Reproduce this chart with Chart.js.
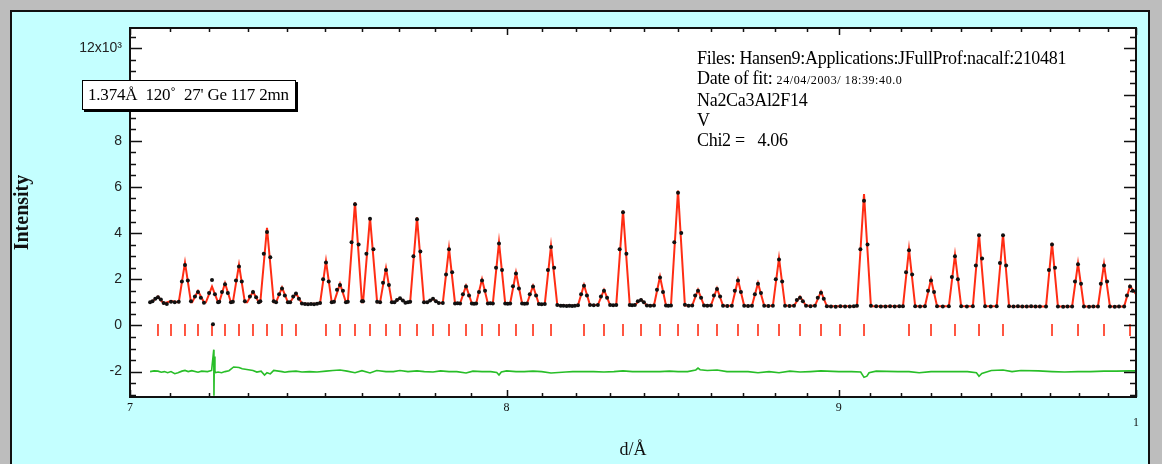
<!DOCTYPE html>
<html>
<head>
<meta charset="utf-8">
<script src="https://cdn.jsdelivr.net/npm/chart.js@4.4.1/dist/chart.umd.min.js"></script>
<style>
    body { margin: 0; width: 1162px; height: 464px; background: #bdbdbd; overflow: hidden; position: relative; }
    #panel { position: absolute; left: 10px; top: 10px; width: 1136px; height: 460px; background: #c4ffff; border: 2px solid #111; border-bottom: none; }
    #c { position: absolute; left: 0; top: 0; }
    #box { position: absolute; left: 82px; top: 80px; width: 207px; height: 28px; padding-left: 5px; background: #fff; border: 1px solid #000; box-shadow: 2px 2px 0 #000; font: 17px "Liberation Serif", serif; line-height: 28px; white-space: pre; letter-spacing: -0.2px; }
    #info { position: absolute; left: 697px; top: 48px; font: 18px "Liberation Serif", serif; line-height: 20px; white-space: pre; color: #000; letter-spacing: -0.3px; }
    #info .small { font-size: 12px; letter-spacing: 0.6px; }
</style>
</head>
<body>
<div id="panel"></div>
<canvas id="c" width="1162" height="464"></canvas>
<div id="box">1.374Å  120˚  27' Ge 117 2mn</div>
<div id="info">Files: Hansen9:Applications:JFullProf:nacalf:210481
Date of fit: <span class="small">24/04/2003/ 18:39:40.0</span>
Na2Ca3Al2F14
V
Chi2 =   4.06</div>
<script>
// d (Å) and intensity (x10^3)
const calcCurve = [
    [7.050, 1.02], [7.056, 1.04], [7.0698, 1.25], [7.084, 0.95], [7.1025, 1.06], [7.122, 1.0],
    [7.1378, 2.72], [7.153, 1.0], [7.156, 1.0], [7.1708, 1.49], [7.186, 1.0], [7.191, 1.0],
    [7.2065, 1.68], [7.222, 1.0], [7.225, 1.0], [7.2398, 1.83], [7.255, 1.0], [7.260, 1.0],
    [7.2758, 2.62], [7.291, 1.0], [7.297, 1.0], [7.3120, 1.46], [7.327, 1.0], [7.331, 1.0],
    [7.3484, 4.23], [7.366, 1.0], [7.372, 1.0], [7.3876, 1.64], [7.403, 1.0], [7.409, 1.0],
    [7.4243, 1.39], [7.440, 0.95], [7.460, 0.93], [7.480, 0.95], [7.488, 0.97], [7.5037, 2.79],
    [7.519, 1.0], [7.525, 1.0], [7.5411, 1.80], [7.557, 1.0], [7.562, 1.0], [7.5813, 5.33],
    [7.600, 1.0], [7.603, 1.0], [7.6217, 4.68], [7.641, 1.0], [7.649, 1.0], [7.6651, 2.48],
    [7.681, 1.0], [7.688, 1.0], [7.7032, 1.18], [7.718, 1.0], [7.731, 1.0], [7.7498, 4.68],
    [7.769, 1.0], [7.778, 1.0], [7.7939, 1.15], [7.810, 0.97], [7.821, 0.97], [7.8382, 3.34],
    [7.855, 0.95], [7.869, 0.95], [7.8856, 1.71], [7.902, 0.95], [7.914, 0.95], [7.9305, 2.00],
    [7.947, 0.95], [7.961, 0.95], [7.9784, 3.60], [7.996, 0.95], [8.010, 0.95], [8.0266, 2.29],
    [8.044, 0.95], [8.058, 0.95], [8.0752, 1.71], [8.092, 0.93], [8.109, 0.93], [8.1269, 3.44],
    [8.145, 0.88], [8.170, 0.85], [8.190, 0.85], [8.205, 0.87], [8.2225, 1.75], [8.240, 0.88],
    [8.263, 0.88], [8.2810, 1.54], [8.299, 0.88], [8.317, 0.88], [8.3370, 4.97], [8.357, 0.88],
    [8.372, 0.88], [8.3904, 1.13], [8.408, 0.86], [8.429, 0.86], [8.4471, 2.11], [8.465, 0.86],
    [8.480, 0.86], [8.5012, 5.84], [8.522, 0.86], [8.544, 0.86], [8.5617, 1.54], [8.580, 0.86],
    [8.601, 0.86], [8.6195, 1.61], [8.638, 0.85], [8.665, 0.85], [8.6839, 1.97], [8.703, 0.85],
    [8.727, 0.85], [8.7457, 1.83], [8.765, 0.85], [8.792, 0.85], [8.8111, 2.91], [8.830, 0.85],
    [8.858, 0.85], [8.8770, 1.25], [8.896, 0.85], [8.924, 0.85], [8.9433, 1.46], [8.962, 0.83],
    [9.000, 0.83], [9.040, 0.83], [9.058, 0.83], [9.0807, 5.69], [9.103, 0.83], [9.150, 0.83],
    [9.190, 0.83], [9.207, 0.83], [9.2267, 3.30], [9.247, 0.83], [9.279, 0.83], [9.2990, 2.00],
    [9.319, 0.83], [9.358, 0.83], [9.3784, 3.05], [9.399, 0.83], [9.438, 0.83], [9.4586, 3.96],
    [9.479, 0.83], [9.518, 0.83], [9.5394, 3.96], [9.560, 0.83], [9.600, 0.82], [9.660, 0.82],
    [9.686, 0.82], [9.7066, 3.58], [9.727, 0.82], [9.776, 0.82], [9.7965, 2.69], [9.817, 0.82],
    [9.866, 0.82], [9.8872, 2.65], [9.908, 0.82], [9.958, 0.82], [9.9788, 1.71], [10.0, 1.35]
];

const observed = [
    [7.050, 1.0], [7.056, 1.05], [7.063, 1.15], [7.0698, 1.22], [7.077, 1.12], [7.084, 0.97], [7.092, 0.93],
    [7.1025, 1.02], [7.112, 1.0], [7.122, 1.02], [7.130, 1.9], [7.1378, 2.62], [7.145, 1.95], [7.153, 1.05],
    [7.163, 1.25], [7.1708, 1.45], [7.178, 1.2], [7.186, 0.98], [7.199, 1.4], [7.2065, 1.97], [7.214, 1.35],
    [7.222, 1.0], [7.209, 0.05], [7.225, 1.02], [7.232, 1.45], [7.2398, 1.78], [7.247, 1.4], [7.255, 1.0],
    [7.260, 1.02], [7.268, 1.95], [7.2758, 2.55], [7.283, 1.9], [7.291, 1.05], [7.304, 1.25], [7.3120, 1.45],
    [7.320, 1.22], [7.327, 1.0], [7.331, 1.05], [7.340, 3.1], [7.3484, 4.05], [7.357, 2.95], [7.366, 1.05],
    [7.372, 1.0], [7.380, 1.35], [7.3876, 1.6], [7.395, 1.3], [7.403, 1.0], [7.409, 1.0], [7.417, 1.25],
    [7.4243, 1.38], [7.432, 1.15], [7.440, 0.95], [7.448, 0.93], [7.456, 0.92], [7.464, 0.93], [7.472, 0.92],
    [7.480, 0.94], [7.488, 0.97], [7.496, 2.0], [7.5037, 2.72], [7.511, 1.9], [7.519, 1.0], [7.525, 1.02],
    [7.533, 1.55], [7.5411, 1.75], [7.549, 1.5], [7.557, 1.0], [7.562, 1.02], [7.572, 3.6], [7.5813, 5.25],
    [7.591, 3.5], [7.600, 1.05], [7.603, 1.05], [7.612, 3.1], [7.6217, 4.62], [7.631, 3.3], [7.641, 1.02],
    [7.649, 1.0], [7.657, 1.85], [7.6651, 2.4], [7.673, 1.75], [7.681, 1.0], [7.688, 1.0], [7.695, 1.1],
    [7.7032, 1.18], [7.711, 1.08], [7.718, 0.98], [7.725, 1.0], [7.731, 1.02], [7.740, 3.0], [7.7498, 4.6],
    [7.759, 3.2], [7.769, 1.0], [7.778, 1.0], [7.786, 1.08], [7.7939, 1.15], [7.802, 1.05], [7.810, 0.97],
    [7.821, 0.97], [7.830, 2.2], [7.8382, 3.3], [7.847, 2.3], [7.855, 0.95], [7.862, 0.96], [7.869, 0.95],
    [7.877, 1.35], [7.8856, 1.68], [7.894, 1.3], [7.902, 0.95], [7.908, 0.94], [7.914, 0.95], [7.922, 1.45],
    [7.9305, 1.95], [7.939, 1.5], [7.947, 0.95], [7.954, 0.96], [7.961, 0.95], [7.970, 2.5], [7.9784, 3.55],
    [7.987, 2.4], [7.996, 0.95], [8.003, 0.94], [8.010, 0.95], [8.018, 1.7], [8.0266, 2.25], [8.035, 1.6],
    [8.044, 0.95], [8.051, 0.94], [8.058, 0.95], [8.066, 1.35], [8.0752, 1.68], [8.084, 1.3], [8.092, 0.93],
    [8.100, 0.92], [8.109, 0.93], [8.118, 2.4], [8.1269, 3.4], [8.136, 2.5], [8.145, 0.88], [8.155, 0.85],
    [8.163, 0.85], [8.172, 0.84], [8.180, 0.85], [8.188, 0.84], [8.196, 0.85], [8.205, 0.87], [8.214, 1.35],
    [8.2225, 1.72], [8.231, 1.3], [8.240, 0.88], [8.251, 0.87], [8.263, 0.88], [8.272, 1.25], [8.2810, 1.5],
    [8.290, 1.2], [8.299, 0.88], [8.308, 0.87], [8.317, 0.88], [8.327, 3.3], [8.3370, 4.9], [8.347, 3.1],
    [8.357, 0.88], [8.364, 0.87], [8.372, 0.88], [8.381, 1.05], [8.3904, 1.1], [8.399, 1.0], [8.408, 0.86],
    [8.418, 0.85], [8.429, 0.86], [8.438, 1.55], [8.4471, 2.08], [8.456, 1.45], [8.465, 0.86], [8.472, 0.85],
    [8.480, 0.86], [8.490, 3.6], [8.5012, 5.75], [8.511, 4.0], [8.522, 0.9], [8.533, 0.85], [8.544, 0.86],
    [8.553, 1.3], [8.5617, 1.5], [8.571, 1.2], [8.580, 0.86], [8.590, 0.85], [8.601, 0.86], [8.610, 1.3],
    [8.6195, 1.58], [8.629, 1.25], [8.638, 0.85], [8.651, 0.84], [8.665, 0.85], [8.674, 1.5], [8.6839, 1.95],
    [8.693, 1.45], [8.703, 0.85], [8.715, 0.84], [8.727, 0.85], [8.736, 1.35], [8.7457, 1.8], [8.755, 1.4],
    [8.765, 0.85], [8.778, 0.84], [8.792, 0.85], [8.801, 2.0], [8.8111, 2.85], [8.821, 1.9], [8.830, 0.85],
    [8.844, 0.84], [8.858, 0.85], [8.867, 1.1], [8.8770, 1.2], [8.886, 1.05], [8.896, 0.85], [8.910, 0.83],
    [8.924, 0.85], [8.933, 1.2], [8.9433, 1.42], [8.952, 1.15], [8.962, 0.83], [8.975, 0.82], [8.990, 0.81],
    [9.005, 0.83], [9.020, 0.82], [9.035, 0.82], [9.048, 0.83], [9.058, 0.85], [9.069, 3.3], [9.0807, 5.4],
    [9.092, 3.5], [9.103, 0.85], [9.120, 0.83], [9.135, 0.82], [9.150, 0.82], [9.165, 0.83], [9.180, 0.82],
    [9.195, 0.83], [9.207, 0.83], [9.217, 2.3], [9.2267, 3.25], [9.237, 2.2], [9.247, 0.83], [9.263, 0.82],
    [9.279, 0.83], [9.289, 1.5], [9.2990, 1.95], [9.309, 1.45], [9.319, 0.83], [9.338, 0.82], [9.358, 0.83],
    [9.368, 2.1], [9.3784, 3.0], [9.388, 2.0], [9.399, 0.83], [9.418, 0.82], [9.438, 0.83], [9.448, 2.6],
    [9.4586, 3.9], [9.469, 2.9], [9.479, 0.83], [9.498, 0.82], [9.518, 0.83], [9.529, 2.7], [9.5394, 3.9],
    [9.550, 2.6], [9.560, 0.83], [9.575, 0.82], [9.590, 0.83], [9.605, 0.82], [9.620, 0.82], [9.635, 0.83],
    [9.650, 0.82], [9.665, 0.82], [9.686, 0.82], [9.696, 2.4], [9.7066, 3.5], [9.717, 2.5], [9.727, 0.82],
    [9.745, 0.81], [9.760, 0.82], [9.776, 0.82], [9.786, 1.9], [9.7965, 2.65], [9.807, 1.8], [9.817, 0.82],
    [9.835, 0.81], [9.850, 0.82], [9.866, 0.82], [9.876, 1.8], [9.8872, 2.6], [9.898, 1.9], [9.908, 0.82],
    [9.925, 0.81], [9.940, 0.82], [9.958, 0.82], [9.968, 1.3], [9.9788, 1.68], [9.989, 1.5]
];

const braggD = [
    7.0698, 7.1025, 7.1378, 7.1708, 7.2065, 7.2398, 7.2758, 7.3120, 7.3484, 7.3876, 7.4243,
    7.5037, 7.5411, 7.5813, 7.6217, 7.6651, 7.7032, 7.7498, 7.7939, 7.8382, 7.8856, 7.9305,
    7.9784, 8.0266, 8.0752, 8.1269, 8.2225, 8.2810, 8.3370, 8.3904, 8.4471, 8.5012, 8.5617,
    8.6195, 8.6839, 8.7457, 8.8111, 8.8770, 8.9433, 9.0037, 9.0807, 9.2267, 9.2990, 9.3784,
    9.4586, 9.5394, 9.7066, 9.7965, 9.8872, 9.9788
];
const braggLevel = -0.2;

const difference = [
    [7.050, -2.0], [7.060, -1.97], [7.0698, -1.98], [7.078, -2.03], [7.086, -2.0], [7.094, -2.05],
    [7.1025, -2.0], [7.112, -2.09], [7.120, -2.05], [7.130, -1.98], [7.1378, -1.95], [7.146, -2.0],
    [7.155, -1.96], [7.1708, -2.03], [7.180, -1.98], [7.195, -2.0], [7.2055, -1.95], [7.211, -1.05],
    [7.2115, -3.05], [7.2125, -1.35], [7.214, -2.05], [7.222, -2.02], [7.231, -2.05], [7.2398, -2.0],
    [7.250, -1.96], [7.262, -1.8], [7.2758, -1.82], [7.284, -1.88], [7.292, -1.9], [7.3120, -1.95],
    [7.322, -2.02], [7.333, -1.98], [7.342, -2.15], [7.3484, -2.05], [7.357, -2.1], [7.366, -1.95],
    [7.3876, -2.0], [7.395, -2.03], [7.405, -2.0], [7.4243, -1.98], [7.44, -2.02], [7.46, -2.0],
    [7.48, -2.02], [7.5037, -1.98], [7.522, -1.95], [7.5411, -1.93], [7.56, -1.98], [7.5813, -2.05],
    [7.60, -1.96], [7.6217, -2.06], [7.64, -1.95], [7.6651, -2.0], [7.685, -2.0], [7.7032, -1.95],
    [7.725, -2.0], [7.7498, -1.97], [7.77, -2.0], [7.7939, -2.02], [7.815, -1.97], [7.8382, -2.0],
    [7.86, -2.0], [7.8856, -2.06], [7.905, -1.98], [7.9305, -2.0], [7.955, -2.0], [7.972, -2.04],
    [7.9784, -2.15], [7.985, -2.02], [8.00, -1.97], [8.0266, -2.0], [8.05, -2.0], [8.0752, -1.98],
    [8.10, -2.0], [8.1269, -2.06], [8.17, -2.02], [8.19, -2.0], [8.2225, -2.0], [8.25, -2.0],
    [8.2810, -2.02], [8.31, -2.0], [8.3370, -1.97], [8.365, -2.0], [8.3904, -2.0], [8.42, -2.0],
    [8.4471, -2.0], [8.475, -1.98], [8.5012, -2.0], [8.53, -2.0], [8.555, -1.93], [8.5617, -1.85],
    [8.568, -1.92], [8.59, -1.95], [8.6195, -1.93], [8.65, -2.0], [8.6839, -2.0], [8.715, -2.0],
    [8.7457, -2.05], [8.78, -2.0], [8.8111, -2.05], [8.845, -1.98], [8.8770, -2.02], [8.91, -2.0],
    [8.9433, -1.97], [9.00, -2.0], [9.04, -2.0], [9.07, -2.02], [9.0807, -2.25], [9.09, -2.2],
    [9.097, -2.05], [9.12, -1.98], [9.19, -2.0], [9.2267, -2.0], [9.26, -2.05], [9.2990, -2.0],
    [9.34, -2.0], [9.3784, -2.0], [9.42, -2.0], [9.45, -2.05], [9.4586, -2.2], [9.468, -2.08],
    [9.50, -1.95], [9.5394, -1.93], [9.57, -2.0], [9.60, -1.95], [9.66, -1.97], [9.7066, -2.0],
    [9.75, -2.02], [9.7965, -2.0], [9.84, -2.0], [9.8872, -1.98], [9.93, -1.98], [9.9788, -1.97],
    [10.0, -1.97]
];

const xTickValues = [7, 8, 9, 10];
const xTickLabels = ["7", "8", "9", ["", "1"]];
const yTickValues = [-2, 0, 2, 4, 6, 8, 10, 12];
const yTickLabels = ["-2", "0", "2", "4", "6", "8", "10", "12x10³"];

function toPoints(pairs) {
    return pairs.map((p) => ({ x: p[0], y: p[1] }));
}

// white plot area, frame and inward tick marks
const framePlugin = {
    id: "frame",
    beforeDatasetsDraw(chart) {
        const { ctx, chartArea: a } = chart;
        ctx.save();
        ctx.fillStyle = "#fff";
        ctx.fillRect(a.left, a.top, a.right - a.left, a.bottom - a.top);
        ctx.restore();
    },
    afterDatasetsDraw(chart) {
        const { ctx, chartArea: a } = chart;
        const xs = chart.scales.x;
        const ys = chart.scales.y;
        ctx.save();
        ctx.strokeStyle = "#111";
        ctx.lineWidth = 1.5;
        ctx.beginPath();
        for (let i = -6; i <= 25; i++) {
            const v = i / 2;
            const py = Math.round(ys.getPixelForValue(v)) + 0.5;
            if (py < a.top || py > a.bottom) continue;
            const len = i % 4 === 0 ? 12 : 6;
            ctx.moveTo(a.left, py);
            ctx.lineTo(a.left + len, py);
            ctx.moveTo(a.right, py);
            ctx.lineTo(a.right - len, py);
        }
        for (let i = 0; i <= 30; i++) {
            const v = 7 + i / 10;
            const px = Math.round(xs.getPixelForValue(v)) + 0.5;
            const len = i % 10 === 0 ? 7 : 4;
            ctx.moveTo(px, a.bottom);
            ctx.lineTo(px, a.bottom - len);
            ctx.moveTo(px, a.top);
            ctx.lineTo(px, a.top + len);
        }
        ctx.stroke();
        ctx.lineWidth = 2;
        ctx.strokeRect(a.left, a.top, a.right - a.left, a.bottom - a.top);
        ctx.restore();
    },
};

new Chart(document.getElementById("c"), {
    type: "scatter",
    data: {
        datasets: [
            {
                label: "Yobs",
                data: toPoints(observed),
                pointRadius: 2,
                pointBackgroundColor: "#111",
                pointBorderWidth: 0,
                showLine: false,
                order: 0,
            },
            {
                label: "Ycalc",
                data: toPoints(calcCurve),
                showLine: true,
                borderColor: "rgb(255,45,20)",
                borderWidth: 2,
                pointRadius: 0,
                tension: 0,
                order: 1,
            },
            {
                label: "Bragg",
                data: braggD.map((d) => ({ x: d, y: braggLevel })),
                showLine: false,
                pointStyle: "line",
                rotation: 90,
                pointRadius: 6,
                borderColor: "rgb(255,45,20)",
                borderWidth: 1.6,
                order: 2,
            },
            {
                label: "Yobs-Ycalc",
                data: toPoints(difference),
                showLine: true,
                borderColor: "rgb(40,190,40)",
                borderWidth: 1.6,
                pointRadius: 0,
                tension: 0,
                order: 3,
            },
        ],
    },
    options: {
        responsive: false,
        animation: false,
        layout: { padding: { left: 0, top: 28, right: 26, bottom: 0 } },
        plugins: {
            legend: { display: false },
            tooltip: { enabled: false },
        },
        scales: {
            x: {
                type: "logarithmic",
                min: 7,
                max: 10,
                grid: { display: false, drawTicks: false, tickLength: 0 },
                border: { display: false },
                afterBuildTicks: (scale) => {
                    scale.ticks = xTickValues.map((v) => ({ value: v }));
                },
                afterFit: (scale) => {
                    scale.height = 67;
                },
                ticks: {
                    autoSkip: false,
                    maxRotation: 0,
                    padding: 4,
                    color: "#111",
                    font: { family: "Liberation Serif", size: 12 },
                    callback: (v, i) => xTickLabels[i],
                },
                title: {
                    display: true,
                    text: "d/Å",
                    color: "#111",
                    font: { family: "Liberation Serif", size: 18 },
                    padding: { top: 0, bottom: 3 },
                },
            },
            y: {
                min: -3.1,
                max: 12.88,
                grid: { display: false, drawTicks: false, tickLength: 0 },
                border: { display: false },
                afterBuildTicks: (scale) => {
                    scale.ticks = yTickValues.map((v) => ({ value: v }));
                },
                afterFit: (scale) => {
                    scale.width = 130;
                },
                ticks: {
                    padding: 8,
                    color: "#222",
                    font: { family: "Liberation Sans", size: 14 },
                    callback: (v, i) => yTickLabels[i],
                },
                title: {
                    display: true,
                    text: "Intensity",
                    color: "#111",
                    font: { family: "Liberation Serif", size: 20, weight: "bold" },
                    padding: { top: 11, bottom: 0 },
                },
            },
        },
    },
    plugins: [framePlugin],
});
</script>
</body>
</html>
